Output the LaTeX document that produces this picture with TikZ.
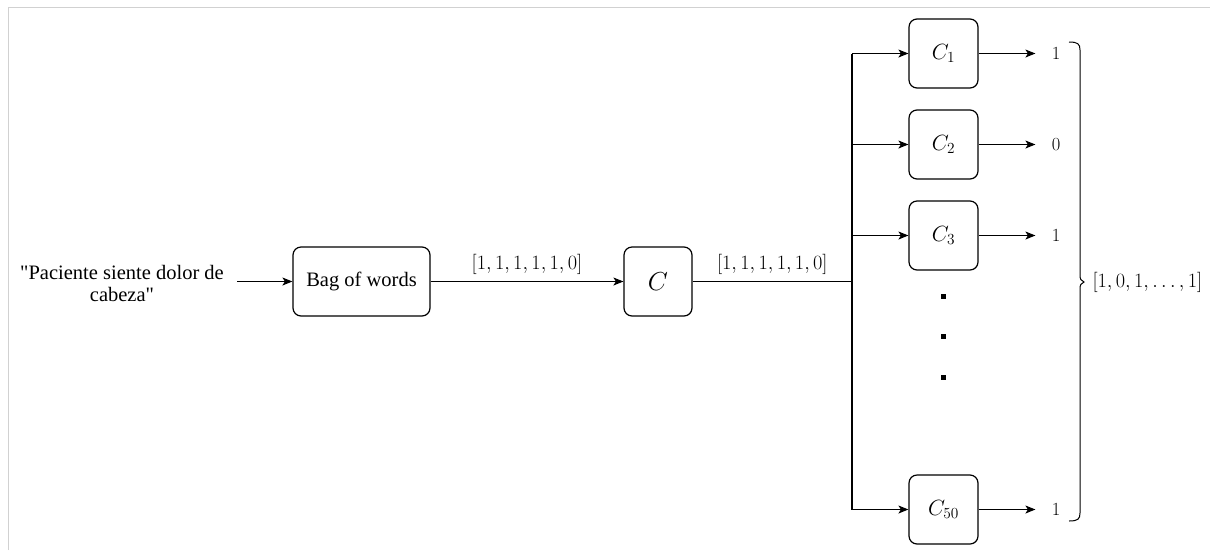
\RequirePackage{fix-cm}
\documentclass[tikz,border=0pt]{standalone}
\usepackage{fontspec}
\setmainfont{Liberation Serif}
\usetikzlibrary{arrows.meta}

\begin{document}
\begin{tikzpicture}[x=1pt,y=-1pt,
  line width=1.2pt,
  arr/.style={-{Stealth[length=10pt,width=8pt,inset=2.5pt]}},
  block/.style={draw,rounded corners=8pt,minimum height=69pt,inner sep=0pt},
  clf/.style={block,minimum width=69pt,font=\fontsize{22}{26}\selectfont},
  outlabel/.style={minimum width=40pt,inner sep=0pt,font=\fontsize{18.5}{22}\selectfont},
  vec/.style={font=\fontsize{20.3}{24}\selectfont}]
\useasboundingbox (0,0) rectangle (1210,550);
\draw [line width=1pt,black!18] (8,550) -- (8,7) -- (1210,7);
\node (txt) [align=center,font=\fontsize{20.5}{22}\selectfont] at (122,283) {\textquotedbl Paciente siente dolor de\\cabeza\textquotedbl};
\node (bow) [block,minimum width=137pt,font=\fontsize{20.5}{22}\selectfont] at (361.5,281.5) {Bag of words};
\node (c) [block,minimum width=68pt,font=\fontsize{26}{30}\selectfont] at (658,281.5) {$C$};
\node (c1) [clf] at (943.5,53.5) {$C_1$};
\node (c2) [clf] at (943.5,144.5) {$C_2$};
\node (c3) [clf] at (943.5,235.5) {$C_3$};
\node (c50) [clf] at (943.5,509.5) {$C_{50}$};
\coordinate (b1) at (852,53.5);
\coordinate (b2) at (852,144.5);
\coordinate (b3) at (852,235.5);
\coordinate (b50) at (852,509.5);
\coordinate (bmid) at (852,281.5);
\coordinate (tin) at (237,281.5);
\draw [arr] (tin) -- (bow.west);
\draw [arr] (bow.east) -- node [vec,above=3pt] {$[1,1,1,1,1,0]$} (c.west);
\draw (c.east) -- node [vec,above=3pt] {$[1,1,1,1,1,0]$} (bmid);
\draw (b1) -- (b50);
\foreach \k in {1,2,3,50} {
  \draw [arr] (b\k) -- (c\k.west);
}
\node (o1) [outlabel] at (1056,53.5) {$1$};
\node (o2) [outlabel] at (1056,144.5) {$0$};
\node (o3) [outlabel] at (1056,235.5) {$1$};
\node (o50) [outlabel] at (1056,509.5) {$1$};
\foreach \k in {1,2,3,50} {
  \draw [arr] (c\k.east) -- (o\k.west);
}
\foreach \y in {296,336,377} {
  \fill (940.5,\y-2.5) rectangle (945.5,\y+2.5);
}
\draw [line width=1pt] (1069,42) .. controls (1078,42) and (1080,44) .. (1080,50)
  -- (1080,275) .. controls (1080,279) and (1081,281) .. (1084,282)
  .. controls (1081,283) and (1080,285) .. (1080,289)
  -- (1080,513) .. controls (1080,519) and (1078,521) .. (1069,521);
\node (res) [vec,anchor=west,inner sep=0pt] at (1092,282) {$[1,0,1,\dots,1]$};
\end{tikzpicture}
\end{document}
